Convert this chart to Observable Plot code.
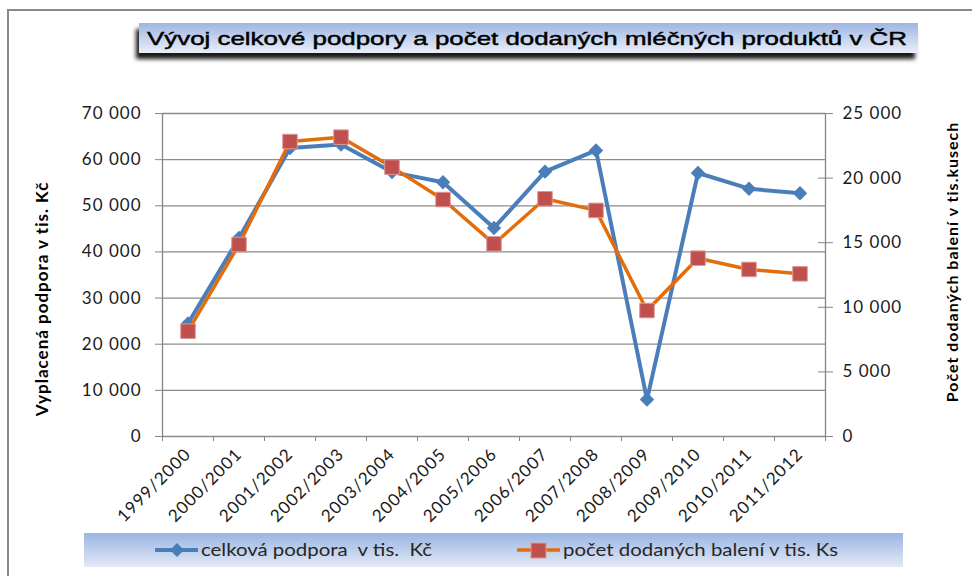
<!DOCTYPE html>
<html><head><meta charset="utf-8">
<script src="https://cdn.jsdelivr.net/npm/d3@7"></script>
<script src="https://cdn.jsdelivr.net/npm/@observablehq/plot@0.6"></script>
<style>
html,body{margin:0;padding:0;background:#fff;overflow:hidden;}
#root{position:relative;width:972px;height:576px;overflow:hidden;background:#fff;}
#frame{position:absolute;left:7px;top:9px;width:990px;height:600px;border-left:2px solid #8a8a8a;border-top:2px solid #8a8a8a;pointer-events:none;}
#head{position:relative;height:70px;}
#foot{position:relative;height:51px;}
svg{display:block;}
</style></head><body>
<div id="root"><div id="head"></div><div id="chart"></div><div id="foot"></div><div id="frame"></div></div>
<script>
const titleText = "Vývoj celkové podpory a počet dodaných mléčných produktů v ČR";
const seasons = ["1999/2000","2000/2001","2001/2002","2002/2003","2003/2004","2004/2005","2005/2006","2006/2007","2007/2008","2008/2009","2009/2010","2010/2011","2011/2012"];
const support = [24500, 43000, 62500, 63300, 57300, 55100, 45200, 57400, 62000, 8000, 57100, 53700, 52700];
const packages = [8150, 14860, 22830, 23170, 20850, 18340, 14910, 18400, 17500, 9750, 13800, 12930, 12590];
const seriesNames = ["celková podpora  v tis.  Kč", "počet dodaných balení v tis. Ks"];
const leftTitle = "Vyplacená podpora v tis. Kč";
const rightTitle = "Počet dodaných balení v tis.kusech";
const leftTicks = [0, 10000, 20000, 30000, 40000, 50000, 60000, 70000];
const rightTicks = [0, 5000, 10000, 15000, 20000, 25000];

const BLUE = "#4A7EBB", ORANGE = "#E46C0A", RED = "#C0504D";
const ratio = leftTicks[leftTicks.length-1] / rightTicks[rightTicks.length-1];
const fmt = d3.formatLocale({decimal:",", thousands:"\u00a0", grouping:[3], currency:["",""]}).format(",d");
const n = seasons.length;
const rows = seasons.map((s, i) => ({i, s, support: support[i], packages: packages[i]}));

// Title
const ns = "http://www.w3.org/2000/svg";
document.getElementById("head").innerHTML = `
<svg width="972" height="70" xmlns="${ns}">
  <defs>
    <linearGradient id="tg" x1="0" y1="0" x2="0" y2="1">
      <stop offset="0" stop-color="#9db6e3"/><stop offset="1" stop-color="#eaeff8"/>
    </linearGradient>
    <filter id="sh" x="-5%" y="-50%" width="110%" height="200%">
      <feDropShadow dx="-3" dy="6" stdDeviation="2" flood-color="#000" flood-opacity="0.9"/>
    </filter>
  </defs>
  <rect x="139" y="23" width="779" height="30" fill="url(#tg)" filter="url(#sh)"/>
  <text id="ttl" x="147" y="45" font-family="Liberation Sans, Arial, sans-serif" font-size="19" fill="#000" stroke="#000" stroke-width="0.45"
    textLength="760" lengthAdjust="spacingAndGlyphs"></text>
</svg>`;
document.getElementById("ttl").textContent = titleText;

const chart = Plot.plot({
  width: 972, height: 455,
  marginTop: 43, marginBottom: 89, marginLeft: 162, marginRight: 147,
  style: {fontFamily: "Lato, sans-serif", fontSize: "17px", color: "#1a1a1a", letterSpacing: "1px", background: "transparent"},
  x: {type: "linear", domain: [0, n]},
  y: {domain: [0, leftTicks[leftTicks.length-1]]},
  marks: [
    Plot.ruleY(leftTicks, {stroke: "#8c8c8c", strokeWidth: 1.3}),
    Plot.ruleX([0, n], {stroke: "#868686", strokeWidth: 1.3}),
    Plot.axisY(leftTicks, {anchor: "left", tickSize: 7, tickPadding: 14, tickFormat: fmt, label: null, stroke: "#868686"}),
    Plot.axisY(rightTicks.map(v => v * ratio), {anchor: "right", tickSize: 7, tickPadding: 10, tickFormat: d => fmt(Math.round(d / ratio)), label: null, stroke: "#868686"}),
    Plot.axisY(rightTicks.map(v => v * ratio), {anchor: "right", tickSize: -8, text: null, label: null, stroke: "#868686"}),
    Plot.axisX(d3.range(n + 1), {anchor: "bottom", tickSize: 5, text: null, label: null, stroke: "#868686"}),
    Plot.axisX(d3.range(n).map(i => i + 0.5), {anchor: "bottom", tickSize: 0, tickPadding: 15, tickRotate: -45, tickFormat: d => seasons[Math.floor(d)], label: null}),
    Plot.line(rows, {x: d => d.i + 0.5, y: "support", stroke: BLUE, strokeWidth: 4}),
    Plot.dot(rows, {x: d => d.i + 0.5, y: "support", symbol: "diamond2", r: 6.5, fill: BLUE, stroke: "none"}),
    Plot.line(rows, {x: d => d.i + 0.5, y: d => d.packages * ratio, stroke: ORANGE, strokeWidth: 3.5}),
    Plot.dot(rows, {x: d => d.i + 0.5, y: d => d.packages * ratio, symbol: "square", r: 8.2, fill: RED, stroke: "#dc9896", strokeWidth: 1}),
    Plot.text([leftTitle], {text: d => d, frameAnchor: "left", textAnchor: "middle", rotate: -90, dx: -120, dy: 24, fontWeight: "bold", fontSize: 17, fill: "#000", letterSpacing: "0px"}),
    Plot.text([rightTitle], {text: d => d, frameAnchor: "right", textAnchor: "middle", rotate: -90, dx: 127, dy: -13, fontWeight: "bold", fontSize: 16, fill: "#000", letterSpacing: "0.3px"})
  ]
});
document.getElementById("chart").appendChild(chart);

// Legend
document.getElementById("foot").innerHTML = `
<svg width="972" height="51" xmlns="${ns}">
  <defs>
    <linearGradient id="lg" x1="0" y1="0" x2="0" y2="1">
      <stop offset="0" stop-color="#9ab5e2"/><stop offset="1" stop-color="#e3e9f6"/>
    </linearGradient>
  </defs>
  <rect x="84" y="8" width="819" height="34" fill="url(#lg)"/>
  <line x1="155" x2="198" y1="25" y2="25" stroke="${BLUE}" stroke-width="4"/>
  <path d="M177,18L184,25L177,32L170,25Z" fill="${BLUE}"/>
  <line x1="517" x2="560" y1="25" y2="25" stroke="${ORANGE}" stroke-width="3.5"/>
  <rect x="531" y="18" width="15" height="15" fill="${RED}" stroke="#dc9896" stroke-width="1"/>
  <text id="l1" x="201" y="31" font-family="Lato, sans-serif" font-size="17" fill="#262626" style="white-space:pre" textLength="231" lengthAdjust="spacingAndGlyphs"></text>
  <text id="l2" x="563" y="31" font-family="Lato, sans-serif" font-size="17" fill="#262626" style="white-space:pre" textLength="275" lengthAdjust="spacingAndGlyphs"></text>
</svg>`;
document.getElementById("l1").textContent = seriesNames[0];
document.getElementById("l2").textContent = seriesNames[1];
</script>
</body></html>
